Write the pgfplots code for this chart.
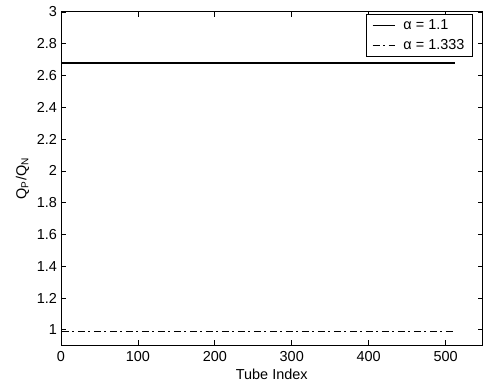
\documentclass[border=0pt]{standalone}
\usepackage{fontspec}
\setmainfont{Liberation Sans}
\usepackage{pgfplots}
\pgfplotsset{compat=1.18}
\begin{document}
\fontsize{14.5}{16}\selectfont
\begin{tikzpicture}[x=1bp,y=1bp]
\begin{axis}[
  scale only axis,
  width=421.5bp, height=333bp,
  at={(0,0)}, anchor=south west,
  xmin=0, xmax=548, ymin=0.905, ymax=3,
  xtick={0,100,200,300,400,500},
  ytick={1,1.2,1.4,1.6,1.8,2,2.2,2.4,2.6,2.8,3},
  yticklabels={1,1.2,1.4,1.6,1.8,2,2.2,2.4,2.6,2.8,3},
  xticklabels={0,100,200,300,400,500},
  tick align=inside,
  major tick length=5bp,
  tick style={black, line width=0.8bp},
  axis line style={line width=1bp},
  /pgf/number format/assume math mode=true,
  ticklabel style={font=\fontsize{14.5}{16}\selectfont},
  xticklabel style={yshift=-1bp},
  yticklabel style={xshift=1bp},
  xlabel={Tube Index},
  ylabel={Q\textsubscript{P}/Q\textsubscript{N}},
  xlabel style={font=\fontsize{14.5}{16}\selectfont, yshift=2bp},
  ylabel style={font=\fontsize{14.5}{16}\selectfont, yshift=-2bp},
  legend style={at={(0.977,0.994)}, anchor=north east, draw=black, line width=0.8bp,
    font=\fontsize{14.5}{16}\selectfont, inner xsep=6bp, inner ysep=3bp, row sep=4bp,
    /tikz/every odd column/.append style={column sep=6bp}},
  legend cell align=left,
  legend image code/.code={\draw[#1, line width=1.5bp] (0bp,0bp) -- (22bp,0bp);},
]
\addplot[black, line width=1.5bp] coordinates {(1,2.68) (512,2.68)};
\addlegendentry{α = 1.1}
\addplot[black, line width=1.2bp, dash pattern=on 7bp off 3.5bp on 2bp off 3.5bp] coordinates {(1,0.99) (512,0.99)};
\addlegendentry{α = 1.333}
\end{axis}
\useasboundingbox (-61bp,-45bp) rectangle (422bp,345bp);
\end{tikzpicture}
\end{document}
